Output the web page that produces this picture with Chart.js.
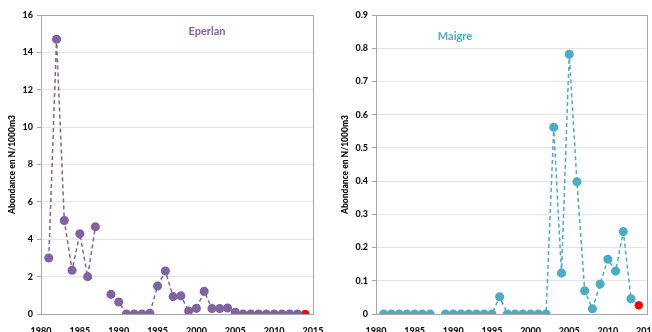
<!DOCTYPE html>
<html lang="en">
<head>
  <meta charset="UTF-8" />
  <title>Eperlan / Maigre</title>
  <style>
    body { margin: 0; background: white; }
    .wrap { display: flex; width: 652px; height: 332px; }
    .box { position: relative; width: 326px; height: 332px; }
  </style>
</head>
<body>
  <div class="wrap">
    <div class="box"><canvas id="leftChart"></canvas></div>
    <div class="box"><canvas id="rightChart"></canvas></div>
  </div>

  <script src="https://cdn.jsdelivr.net/npm/chart.js"></script>
  <script>
    // years 1981..2013 (1988 not sampled)
    const years = [1981, 1982, 1983, 1984, 1985, 1986, 1987, 1988, 1989, 1990,
                   1991, 1992, 1993, 1994, 1995, 1996, 1997, 1998, 1999, 2000,
                   2001, 2002, 2003, 2004, 2005, 2006, 2007, 2008, 2009, 2010,
                   2011, 2012, 2013];
    const eperlan = [3.0, 14.7, 5.0, 2.34, 4.29, 2.0, 4.67, null, 1.05, 0.64,
                     0, 0, 0, 0.04, 1.5, 2.3, 0.93, 0.97, 0.16, 0.3,
                     1.21, 0.29, 0.29, 0.32, 0.09, 0, 0, 0, 0, 0,
                     0, 0, 0];
    const maigre = [0, 0, 0, 0, 0, 0, 0, null, 0, 0,
                    0, 0, 0, 0, 0, 0.052, 0, 0, 0, 0,
                    0, 0, 0.562, 0.123, 0.782, 0.398, 0.07, 0.016, 0.09, 0.165,
                    0.129, 0.248, 0.046];
    // last year shown in red
    const lastYear = [2014];
    const eperlanLast = [0];
    const maigreLast = [0.026];

    const eperlanTicks = [0, 2, 4, 6, 8, 10, 12, 14, 16];
    const maigreTicks = [0, 0.1, 0.2, 0.3, 0.4, 0.5, 0.6, 0.7, 0.8, 0.9];

    const tickFont = { family: 'Lato', size: 9, weight: '900' };

    function pts(xs, ys) {
      return xs.map((x, i) => ({ x: x, y: ys[i] }));
    }

    // frame around plot + species label
    const framePlugin = {
      id: 'frame',
      afterDraw(chart, args, opts) {
        const a = chart.chartArea;
        const ctx = chart.ctx;
        ctx.save();
        ctx.strokeStyle = '#a6a6a6';
        ctx.lineWidth = 1;
        ctx.strokeRect(Math.round(a.left) + 0.5, Math.round(a.top) + 0.5,
                       Math.round(a.right - a.left), Math.round(a.bottom - a.top));
        ctx.fillStyle = opts.color;
        ctx.font = 'bold 11px Lato';
        ctx.textAlign = 'center';
        ctx.textBaseline = 'middle';
        ctx.fillText(opts.text, opts.x, opts.y);
        ctx.restore();
      }
    };

    function makeChart(id, cfg) {
      return new Chart(document.getElementById(id).getContext('2d'), {
        type: 'line',
        data: {
          datasets: [{
            data: pts(years, cfg.values),
            borderColor: cfg.color,
            backgroundColor: cfg.color,
            pointBackgroundColor: cfg.color,
            pointBorderColor: cfg.color,
            borderDash: [4, 3],
            borderWidth: 1.5,
            pointRadius: 3.8,
            spanGaps: false
          }, {
            data: pts(lastYear, cfg.last),
            showLine: false,
            backgroundColor: '#ff0000',
            pointBackgroundColor: '#ff0000',
            pointBorderColor: '#ff0000',
            pointRadius: 3.8
          }]
        },
        options: {
          responsive: true,
          maintainAspectRatio: false,
          animation: false,
          layout: { padding: { top: 15, right: cfg.padRight, left: 0, bottom: 0 } },
          plugins: {
            legend: { display: false },
            tooltip: { enabled: false },
            frame: { text: cfg.name, color: cfg.color, x: cfg.nameX, y: cfg.nameY }
          },
          scales: {
            x: {
              type: 'linear',
              min: 1980,
              max: 2015,
              afterBuildTicks(scale) {
                scale.ticks = [1980, 1985, 1990, 1995, 2000, 2005, 2010, 2015].map(v => ({ value: v }));
              },
              afterFit(scale) {
                scale.height = 18;
                scale.paddingLeft = 0;
                scale.paddingRight = 0;
              },
              grid: { display: false },
              border: { color: '#a6a6a6' },
              ticks: {
                color: '#111111',
                font: tickFont,
                padding: 4,
                maxRotation: 0,
                autoSkip: false,
                callback: v => String(v)
              }
            },
            y: {
              min: 0,
              max: cfg.ticks[cfg.ticks.length - 1],
              afterBuildTicks(scale) {
                scale.ticks = cfg.ticks.map(v => ({ value: v }));
              },
              afterFit(scale) {
                scale.width = cfg.axisWidth;
              },
              grid: { color: '#e3e3e3', tickLength: 4, tickColor: '#a6a6a6' },
              border: { color: '#a6a6a6' },
              ticks: {
                color: '#111111',
                font: tickFont,
                padding: 4,
                callback: v => cfg.fmt(v)
              },
              title: {
                display: true,
                text: 'Abondance en N/1000m3',
                color: '#000000',
                font: { family: 'Lato', size: 8.5, weight: '900' },
                padding: { top: cfg.titlePad, bottom: 0 }
              }
            }
          }
        },
        plugins: [framePlugin]
      });
    }

    makeChart('leftChart', {
      values: eperlan, last: eperlanLast, color: '#8064a2',
      ticks: eperlanTicks, fmt: v => String(v),
      name: 'Eperlan', nameX: 207, nameY: 31,
      axisWidth: 41, padRight: 13, titlePad: 7
    });

    makeChart('rightChart', {
      values: maigre, last: maigreLast, color: '#4bacc6',
      ticks: maigreTicks, fmt: v => v === 0 ? '0' : v.toFixed(1),
      name: 'Maigre', nameX: 129, nameY: 36,
      axisWidth: 50, padRight: 5, titlePad: 14
    });
  </script>
</body>
</html>
